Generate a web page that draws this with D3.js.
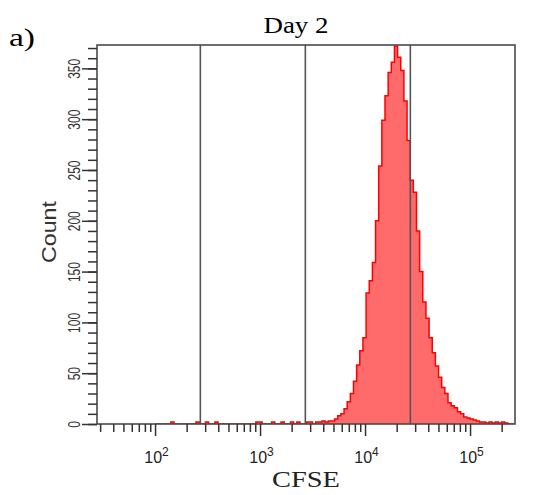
<!DOCTYPE html>
<html>
<head>
<meta charset="utf-8">
<script src="https://cdn.jsdelivr.net/npm/d3@7"></script>
<style>
body { margin: 0; background: #fff; }
</style>
</head>
<body>
<div id="chart"></div>
<script>

// Day 2 CFSE histogram, bins 0.03 decades wide starting at 10^2
var binStartLog = 2,
binWidthLog = 0.03;

var counts = [
  0, 0, 0, 0, 0, 2, 0, 0, 0, 0,
  0, 0, 0, 2, 0, 0, 2, 0, 0, 2,
  0, 0, 0, 0, 0, 0, 0, 0, 0, 0,
  0, 0, 2, 2, 0, 0, 0, 2, 0, 0,
  2, 0, 0, 2, 0, 2, 0, 0, 2, 2,
  0, 2, 2, 3, 2, 3, 3, 5, 8, 10,
  15, 22, 30, 42, 58, 72, 85, 129, 141, 159,
  200, 254, 299, 323, 346, 356, 372, 361, 348, 318,
  279, 240, 228, 190, 150, 120, 104, 85, 70, 57,
  46, 36, 30, 21, 18, 16, 12, 10, 7, 6,
  5, 4, 3, 2, 2, 1, 2, 1, 2, 1,
  2, 1, 0, 0
];

var gates = [270, 2700, 27000];
var xLabelExp = [2, 3, 4, 5];
var yLabels = [0, 50, 100, 150, 200, 250, 300, 350];

width = 545,
height = 495;

var svg = d3.select("#chart").append("svg")
.attr("width", width)
.attr("height", height)
.style("font-family", "'Liberation Sans', Arial, sans-serif");

var pLeft = 97, pRight = 515, pTop = 45, pBottom = 424;

var x = d3.scaleLog()
.domain([28, 268000])
.range([pLeft, pRight]);

var y = d3.scaleLinear()
.domain([0, 373])
.range([pBottom, pTop]);

// minor log ticks 2..9 x 10^k
var xMinor = [];
for (k = 1; k <= 5; k++){
  for (m = 2; m <= 9; m++){
    var v = m * Math.pow(10, k);
    if (v >= x.domain()[0] && v <= x.domain()[1]) xMinor.push(v);
  }
}
var xMajor = xLabelExp.map(function(e){ return Math.pow(10, e) });
var yMinor = d3.range(0, 371, 10);

svg.append("clipPath")
.attr("id", "plotclip")
.append("rect")
.attr("x", pLeft)
.attr("y", pTop)
.attr("width", pRight - pLeft)
.attr("height", pBottom - pTop);

var bins = counts.map(function(c, i){
  return {v: Math.pow(10, binStartLog + i * binWidthLog), c: c}
})
bins.push({v: Math.pow(10, binStartLog + counts.length * binWidthLog), c: counts[counts.length - 1]})

var area = d3.area()
.curve(d3.curveStepAfter)
.x(function(d){ return x(d.v) })
.y0(y(0))
.y1(function(d){ return y(d.c) });

var line = d3.line()
.curve(d3.curveStepAfter)
.x(function(d){ return x(d.v) })
.y(function(d){ return y(d.c) });

var plot = svg.append("g").attr("clip-path", "url(#plotclip)");

plot.append("path")
.datum(bins)
.attr("d", area)
.style("fill", "#ff6a6a");

plot.append("path")
.datum(bins)
.attr("d", line)
.style("fill", "none")
.style("stroke", "#ff0000")
.style("stroke-width", 1.5);

// gate lines
plot.selectAll("line.gate")
.data(gates)
.enter().append("line")
.attr("class", "gate")
.attr("x1", function(d){ return x(d) })
.attr("x2", function(d){ return x(d) })
.attr("y1", pTop)
.attr("y2", pBottom)
.style("stroke", "#555")
.style("stroke-width", 1.6);

// frame
svg.append("rect")
.attr("x", pLeft)
.attr("y", pTop)
.attr("width", pRight - pLeft)
.attr("height", pBottom - pTop)
.style("fill", "none")
.style("stroke", "#4a4a4a")
.style("stroke-width", 1.6);

// x axis
var gx = svg.append("g")
.attr("transform", "translate(0," + pBottom + ")");

gx.append("g")
.call(d3.axisBottom(x).tickValues(xMinor).tickSize(8).tickFormat(""))
.call(function(g){ g.select(".domain").remove() });

gx.append("g")
.call(d3.axisBottom(x).tickValues(xMajor).tickSize(12).tickFormat(""))
.call(function(g){ g.select(".domain").remove() });

gx.selectAll("line").style("stroke", "#333").style("stroke-width", 1.5);

var xl = svg.append("g").selectAll("text")
.data(xLabelExp)
.enter().append("text")
.attr("y", 463)
.style("font-size", "16px")
.style("fill", "#222");

xl.append("tspan")
.attr("x", function(d){ return x(Math.pow(10, d)) + 7 })
.attr("text-anchor", "end")
.text("10");

xl.append("tspan")
.attr("x", function(d){ return x(Math.pow(10, d)) + 7 })
.attr("dy", -7)
.attr("text-anchor", "start")
.style("font-size", "12px")
.text(function(d){ return d });

// y axis
var gy = svg.append("g")
.attr("transform", "translate(" + pLeft + ",0)");

gy.append("g")
.call(d3.axisLeft(y).tickValues(yMinor).tickSize(9).tickFormat(""))
.call(function(g){ g.select(".domain").remove() });

gy.append("g")
.attr("class", "ymajor")
.call(d3.axisLeft(y).tickValues(yLabels).tickSize(15))
.call(function(g){ g.select(".domain").remove() });

gy.selectAll("line").style("stroke", "#333").style("stroke-width", 1.5);

gy.selectAll(".ymajor text")
.attr("x", null)
.attr("dy", null)
.attr("text-anchor", "middle")
.attr("transform", "translate(-17,0) rotate(-90) scale(1,1.4)")
.style("font-size", "12px")
.style("font-family", "'Liberation Sans', Arial, sans-serif")
.style("fill", "#333");

// titles
svg.append("text")
.attr("x", 9)
.attr("y", 46)
.attr("textLength", 26)
.attr("lengthAdjust", "spacingAndGlyphs")
.style("font-family", "'Liberation Serif', 'Times New Roman', serif")
.style("font-size", "26px")
.text("a)");

svg.append("text")
.attr("x", 296)
.attr("y", 33)
.attr("text-anchor", "middle")
.attr("textLength", 65)
.attr("lengthAdjust", "spacingAndGlyphs")
.style("font-family", "'Liberation Serif', 'Times New Roman', serif")
.style("font-size", "23px")
.text("Day 2");

svg.append("text")
.attr("x", 306)
.attr("y", 487)
.attr("text-anchor", "middle")
.attr("textLength", 68)
.attr("lengthAdjust", "spacingAndGlyphs")
.style("font-family", "'Liberation Serif', 'Times New Roman', serif")
.style("font-size", "23px")
.style("fill", "#222")
.text("CFSE");

svg.append("text")
.attr("transform", "translate(56,232) rotate(-90)")
.attr("text-anchor", "middle")
.attr("textLength", 62)
.attr("lengthAdjust", "spacingAndGlyphs")
.style("font-size", "20px")
.style("fill", "#333")
.text("Count");

</script>
</body>
</html>
